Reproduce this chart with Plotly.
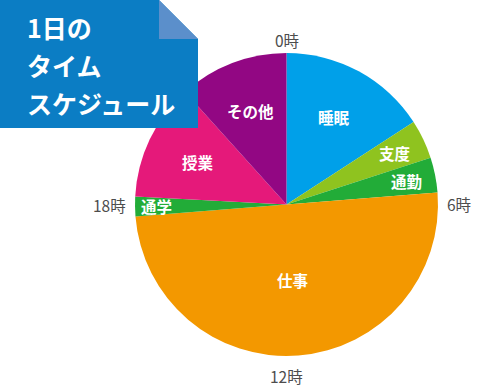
import math
import plotly.graph_objects as go

# ---- data ----
labels = ["睡眠", "支度", "通勤", "仕事", "通学", "授業", "その他"]
hours = [3.8, 1.0, 0.9, 12.0, 0.5, 3.0, 2.8]
colors = ["#00a0e9", "#8fc31f", "#22ac38", "#f39800", "#22ac38", "#e5197a", "#920783"]
hour_ticks = ["0時", "6時", "12時", "18時"]
tick_hours = [0, 6, 12, 18]
title_lines = ["1日の", "タイム", "スケジュール"]

# ---- layout constants (px) ----
W, H = 480, 391
CX, CY, R = 286.5, 204.5, 151.5
label_rfrac = [0.66, 0.79, 0.81, 0.50, 0.86, 0.65, 0.66]
tick_r = [164, 172, 171, 177]
FONT = "Noto Sans CJK JP"

fig = go.Figure()
fig.add_trace(go.Pie(
    labels=labels, values=hours, sort=False, direction="clockwise", rotation=0,
    marker=dict(colors=colors, line=dict(width=0)),
    textinfo="none", hoverinfo="skip", showlegend=False,
    domain=dict(x=[(CX - R) / W, (CX + R) / W],
                y=[(H - CY - R) / H, (H - CY + R) / H]),
))

def px_to_paper(x, y):
    return x / W, 1 - y / H

ann = []
total = sum(hours)
cum = 0
for lab, v, rf in zip(labels, hours, label_rfrac):
    mid = (cum + v / 2) / total * 2 * math.pi
    cum += v
    x = CX + R * rf * math.sin(mid)
    y = CY - R * rf * math.cos(mid)
    px, py = px_to_paper(x, y)
    ann.append(dict(x=px, y=py, xref="paper", yref="paper", text=f"<b>{lab}</b>",
                    showarrow=False, font=dict(family=FONT, size=15.5, color="white"),
                    xanchor="center", yanchor="middle"))

for t, h, rr in zip(hour_ticks, tick_hours, tick_r):
    a = h / 24 * 2 * math.pi
    x = CX + rr * math.sin(a)
    y = CY - rr * math.cos(a)
    px, py = px_to_paper(x, y)
    ann.append(dict(x=px, y=py, xref="paper", yref="paper", text=t,
                    showarrow=False, font=dict(family=FONT, size=15.5, color="#4d4d4d"),
                    xanchor="center", yanchor="middle"))

# title box
line_y = [27, 65, 103]
for t, ly in zip(title_lines, line_y):
    px, py = px_to_paper(25, ly)
    ann.append(dict(x=px, y=py, xref="paper", yref="paper", text=f"<b>{t}</b>",
                    showarrow=False, font=dict(family=FONT, size=25, color="white"),
                    xanchor="left", yanchor="middle"))

def pth(pts):
    s = ""
    for i, (x, y) in enumerate(pts):
        xp, yp = px_to_paper(x, y)
        s += ("M" if i == 0 else "L") + f"{xp},{yp} "
    return s + "Z"

shapes = [
    dict(type="path", xref="paper", yref="paper", layer="above",
         path=pth([(0, 0), (159, 0), (198, 39), (198, 128), (0, 128)]),
         fillcolor="#0b7dc4", line=dict(width=0)),
    dict(type="path", xref="paper", yref="paper", layer="above",
         path=pth([(159, 0), (159, 39), (198, 39)]),
         fillcolor="#5b8fcb", line=dict(width=0)),
]

fig.update_layout(
    width=W, height=H, margin=dict(l=0, r=0, t=0, b=0),
    paper_bgcolor="white", plot_bgcolor="white",
    annotations=ann, shapes=shapes,
)
fig.write_html("out.html", config={"displayModeBar": False})

with open("out.html", encoding="utf-8") as f:
    html = f.read()
html = html.replace("<head>", "<head><style>html,body{margin:0;padding:0;overflow:hidden;}</style>", 1)
with open("out.html", "w", encoding="utf-8") as f:
    f.write(html)
